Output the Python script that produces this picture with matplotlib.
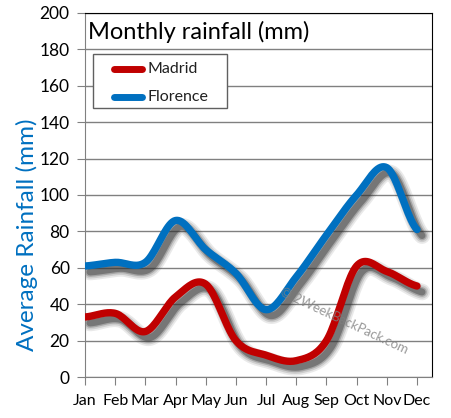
import numpy as np
import matplotlib
matplotlib.use("Agg")
import matplotlib.pyplot as plt
import matplotlib.transforms as mtransforms
from matplotlib.patches import Rectangle

plt.rcParams['font.family'] = ['Lato', 'DejaVu Sans']

# monthly average rainfall (mm)
months = ['Jan', 'Feb', 'Mar', 'Apr', 'May', 'Jun',
          'Jul', 'Aug', 'Sep', 'Oct', 'Nov', 'Dec']
madrid = [33, 35, 25, 44, 51, 20, 12, 9, 20, 61, 58, 50]
florence = [61, 63, 63, 86, 70, 57, 37, 55, 78, 100, 115, 81]


def smooth(y, n=20):
    # Catmull-Rom curve through the monthly points (like Excel's smoothed line)
    p = np.array(y, dtype=float)
    p = np.concatenate([[p[0]], p, [p[-1]]])
    xs, ys = [], []
    for i in range(1, len(p) - 2):
        t = np.linspace(0, 1, n, endpoint=False)
        p0, p1, p2, p3 = p[i - 1], p[i], p[i + 1], p[i + 2]
        v = 0.5 * ((2 * p1) + (-p0 + p2) * t + (2 * p0 - 5 * p1 + 4 * p2 - p3) * t ** 2
                   + (-p0 + 3 * p1 - 3 * p2 + p3) * t ** 3)
        xs.extend(i - 1 + t)
        ys.extend(v)
    xs.append(len(y) - 1)
    ys.append(y[-1])
    return np.array(xs), np.array(ys)


fig = plt.figure(figsize=(4.52, 4.18), dpi=100)
ax = fig.add_axes([0.188, 0.098, 0.768, 0.871])

x = np.arange(len(months))
series = [('Madrid', madrid, '#c00000'), ('Florence', florence, '#0070c0')]

# blurred drop shadows
shift = mtransforms.ScaledTranslation(5 / 100, -6 / 100, fig.dpi_scale_trans)
for name, vals, col in series:
    sx, sy = smooth(vals)
    for lw, a in [(12, 0.10), (9.5, 0.15), (7, 0.25), (5, 0.4)]:
        ax.plot(sx, sy, color='#303030', lw=lw, alpha=a, solid_capstyle='round',
                transform=ax.transData + shift, zorder=2)

for name, vals, col in series:
    sx, sy = smooth(vals)
    ax.plot(sx, sy, color=col, lw=5.3, solid_capstyle='round', zorder=3)

ax.set_xlim(0, 11.5)
ax.set_ylim(0, 200)
ax.set_yticks(range(0, 201, 20))
ax.set_xticks(x)
ax.set_xticklabels(months)
ax.yaxis.grid(True, color='#808080', lw=1)
ax.set_axisbelow(True)
ax.tick_params(axis='both', colors='#808080', length=6, labelcolor='black')
ax.tick_params(axis='y', labelsize=12.5, pad=5)
ax.tick_params(axis='x', labelsize=11.5, pad=6)
for s in ['left', 'bottom']:
    ax.spines[s].set_color('#808080')
for s in ['top', 'right']:
    ax.spines[s].set_color('black')

ax.set_ylabel('Average Rainfall (mm)', color='#0070c0', fontsize=17.5)
ax.yaxis.set_label_coords(-0.135, 0.39)
ax.text(0.01, 0.977, 'Monthly rainfall (mm)', transform=ax.transAxes,
        fontsize=17, va='top', ha='left', color='black')

# legend box
ax.add_patch(Rectangle((0.023, 0.739), 0.386, 0.148, transform=ax.transAxes,
                       facecolor='white', edgecolor='#606060', lw=1, zorder=5))
for (name, vals, col), ly in zip(series, [0.846, 0.769]):
    ax.plot([0.084, 0.164], [ly, ly], color=col, lw=5, solid_capstyle='round',
            transform=ax.transAxes, zorder=6)
    ax.text(0.179, ly, name, transform=ax.transAxes, fontsize=11.5, va='center',
            ha='left', color='#202020', zorder=6)

ax.text(0.746, 0.154, '\u00a9 2WeekBackPack.com', transform=ax.transAxes, fontsize=9.5,
        color='#808080', alpha=0.8, rotation=-25, ha='center', va='center',
        rotation_mode='anchor', zorder=7)

fig.savefig('out.png', dpi=100)
